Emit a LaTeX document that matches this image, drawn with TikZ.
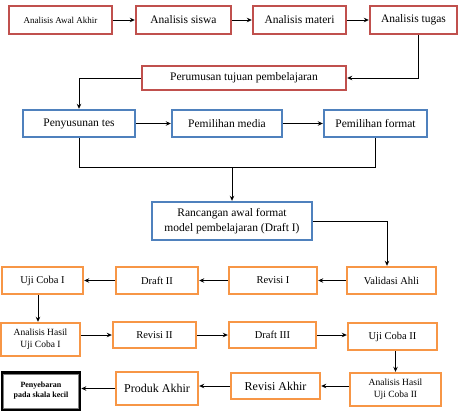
\documentclass[tikz,border=0pt]{standalone}
\usepackage{fontspec}
\setmainfont{Liberation Serif}
\newfontfamily\tnr{Liberation Serif}
\usetikzlibrary{arrows.meta}
\definecolor{redb}{RGB}{192,80,77}
\definecolor{blueb}{RGB}{79,129,189}
\definecolor{orangeb}{RGB}{247,150,70}
\tikzset{
  bx/.style={draw, line width=2.4pt, fill=white, inner sep=1pt, align=center},
  rbox/.style={bx, draw=redb},
  bbox/.style={bx, draw=blueb},
  obox/.style={bx, draw=orangeb},
  conn/.style={line width=0.9pt},
  arr/.style={conn, -{Stealth[length=5pt,width=4.5pt]}},
  fA/.style={font=\tnr\fontsize{11.5}{14}\selectfont},
  fB/.style={font=\tnr\fontsize{10.5}{12.5}\selectfont},
}
\begin{document}
\begin{tikzpicture}[x=1pt,y=-1pt]
\useasboundingbox (0,0) rectangle (462,412);
% row 1
\node[rbox, minimum width=103pt, minimum height=28pt, font=\tnr\fontsize{9}{11}\selectfont] (awal) at (60.5,20) {Analisis Awal Akhir};
\node[rbox, fA, minimum width=95pt, minimum height=28pt] (siswa) at (183.5,20) {Analisis siswa};
\node[rbox, fA, minimum width=93pt, minimum height=28pt] (materi) at (299.5,20) {Analisis materi};
\node[rbox, fA, minimum width=87pt, minimum height=28pt] (tugas) at (413.5,20) {Analisis tugas};
\node[rbox, fA, minimum width=204pt, minimum height=24pt] (rumus) at (244,78) {Perumusan tujuan pembelajaran};
% row 3
\node[bbox, fA, minimum width=112pt, minimum height=27pt] (tes) at (79,123.5) {Penyusunan tes};
\node[bbox, fA, minimum width=110pt, minimum height=27pt] (media) at (227,123.5) {Pemilihan media};
\node[bbox, fA, minimum width=103pt, minimum height=27pt] (format) at (375.5,123.5) {Pemilihan format};
\node[bbox, minimum width=160pt, minimum height=38pt, font=\tnr\fontsize{11.5}{15}\selectfont] (ranc) at (232,221) {Rancangan awal format\\model pembelajaran (Draft I)};
% row 5
\node[obox, fB, minimum width=81pt, minimum height=27pt] (uji1) at (42.5,280.5) {Uji Coba I};
\node[obox, fB, minimum width=82pt, minimum height=27pt] (draft2) at (157,280.5) {Draft II};
\node[obox, fB, minimum width=88pt, minimum height=27pt] (rev1) at (273,280.5) {Revisi I};
\node[obox, fB, minimum width=89pt, minimum height=27pt] (valid) at (391.5,280.5) {Validasi Ahli};
% row 6
\node[obox, minimum width=79pt, minimum height=33pt, font=\tnr\fontsize{9.5}{12}\selectfont] (hasil1) at (40.5,339.5) {Analisis Hasil\\Uji Coba I};
\node[obox, fB, minimum width=83pt, minimum height=26pt] (rev2) at (154.5,335) {Revisi II};
\node[obox, fB, minimum width=87pt, minimum height=26pt] (draft3) at (272.5,335) {Draft III};
\node[obox, fB, minimum width=89pt, minimum height=27pt] (uji2) at (392.5,336.5) {Uji Coba II};
% row 7
\node[obox, minimum width=91pt, minimum height=33pt, font=\tnr\fontsize{9.5}{12}\selectfont] (hasil2) at (395.5,389.5) {Analisis Hasil\\Uji Coba II};
\node[obox, minimum width=89pt, minimum height=26pt, font=\tnr\fontsize{12}{14}\selectfont] (revA) at (275.5,386) {Revisi Akhir};
\node[obox, minimum width=82pt, minimum height=33pt, font=\tnr\fontsize{12}{14}\selectfont] (produk) at (157,388.5) {Produk Akhir};
\node[draw=black, line width=2.6pt, fill=white, minimum width=78pt, minimum height=37pt, align=center, inner sep=1pt, font=\tnr\bfseries\fontsize{8}{10}\selectfont] (sebar) at (41,391) {Penyebaran\\pada skala kecil};
\draw[gray, line width=0.6pt] ([shift={(2.6pt,-2.6pt)}]sebar.north west) rectangle ([shift={(-2.6pt,2.6pt)}]sebar.south east);
% connectors row 1
\draw[arr] (awal.east) -- (siswa.west);
\draw[arr] (siswa.east) -- (materi.west);
\draw[arr] (materi.east) -- (tugas.west);
\draw[arr] ([xshift=4.5pt]tugas.south) |- (rumus.east);
\draw[arr] (rumus.west) -| (tes.north);
% row 3
\draw[arr] (tes.east) -- (media.west);
\draw[arr] (media.east) -- (format.west);
\coordinate (j1) at (79,167);
\coordinate (j2) at (375.5,167);
\coordinate (j3) at (232,167);
\draw[conn] (tes.south) -- (j1) -- (j2) -- (format.south);
\draw[arr] (j3) -- (ranc.north);
\draw[arr] (ranc.east) -| ([xshift=-4.5pt]valid.north);
% row 5
\draw[arr] (valid.west) -- (rev1.east);
\draw[arr] (rev1.west) -- (draft2.east);
\draw[arr] (draft2.west) -- (uji1.east);
\draw[arr] ([xshift=-4.5pt]uji1.south) -- ([xshift=-4.5pt]uji1.south |- hasil1.north);
% row 6
\draw[arr] (rev2.west -| hasil1.east) -- (rev2.west);
\draw[arr] (rev2.east) -- (draft3.west);
\draw[arr] (draft3.east) -- (draft3.east -| uji2.west);
\draw[arr] ([xshift=3pt]uji2.south) -- ([xshift=3pt]uji2.south |- hasil2.north);
% row 7
\draw[arr] (revA.east -| hasil2.west) -- (revA.east);
\draw[arr] (revA.west) -- (revA.west -| produk.east);
\draw[arr] (produk.west) -- (produk.west -| sebar.east);
\end{tikzpicture}
\end{document}
